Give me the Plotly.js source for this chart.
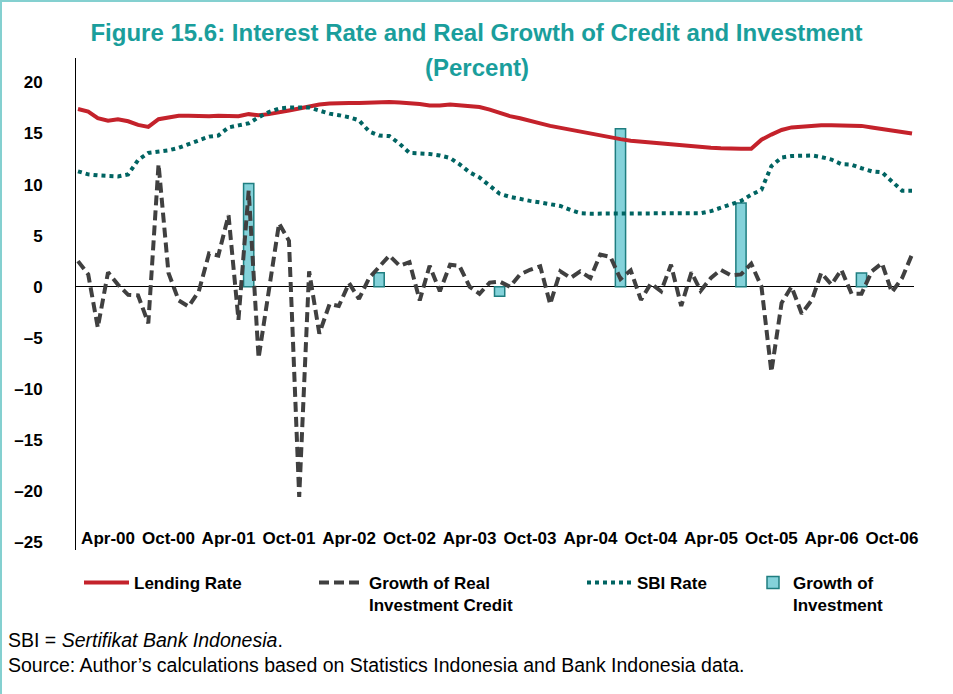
<!DOCTYPE html>
<html><head><meta charset="utf-8">
<script src="https://cdn.plot.ly/plotly-3.0.1.min.js"></script>
<style>
html,body{margin:0;padding:0;background:#fff;}
#wrap{position:relative;width:953px;height:694px;overflow:hidden;}
#chart{position:absolute;left:0;top:0;width:953px;height:694px;}
.bt{position:absolute;left:0;top:0;width:953px;height:2px;background:#84d0d0;}
.bl{position:absolute;left:0;top:0;width:2px;height:694px;background:#84d0d0;}
</style></head><body>
<div id="wrap"><div id="chart"></div><div class="bt"></div><div class="bl"></div></div>
<script>
const startYear = 2000, endYear = 2006;

const lendingRate = [17.4,17.15,16.5,16.25,16.4,16.2,15.85,15.65,16.4,16.6,
16.75,16.75,16.7,16.7,16.75,16.7,16.7,16.9,16.8,16.9,
17.05,17.25,17.45,17.65,17.85,17.95,18.0,18.0,18.0,18.05,
18.1,18.1,18.05,18.0,17.9,17.75,17.75,17.85,17.8,17.75,
17.6,17.35,17.05,16.7,16.5,16.3,16.0,15.75,15.55,15.35,
15.15,15.0,14.8,14.65,14.45,14.3,14.2,14.1,14.0,13.9,
13.8,13.75,13.65,13.6,13.55,13.5,13.5,13.5,14.4,14.9,
15.35,15.6,15.7,15.8,15.8,15.8,15.8,15.8,15.75,15.6,
15.45,15.35,15.2,15.0];

const sbiRate = [11.3,11.0,10.9,10.85,10.8,11.0,12.4,13.1,13.2,13.35,
13.6,13.95,14.4,14.7,14.8,15.6,15.8,16.0,16.6,17.1,
17.45,17.55,17.55,17.55,17.25,16.95,16.8,16.6,16.3,15.2,
14.8,14.75,14.0,13.1,13.05,13.0,12.85,12.6,12.0,11.2,
10.7,9.9,9.1,8.8,8.55,8.4,8.25,8.1,7.9,7.5,
7.2,7.15,7.15,7.15,7.15,7.15,7.15,7.15,7.15,7.15,
7.15,7.15,7.2,7.4,7.75,8.05,8.4,9.0,9.5,11.8,
12.65,12.8,12.85,12.85,12.7,12.45,12.0,11.95,11.6,11.3,
11.2,10.3,9.4,9.4];

const investCreditGrowth = [2.5,1.2,-4.0,1.4,0.2,-0.8,-0.85,-3.6,12.0,1.35,
-1.35,-1.95,-0.45,3.25,3.05,7.0,-3.25,9.4,-7.0,-0.5,
6.2,4.5,-20.6,1.5,-4.6,-1.7,-1.9,0.35,-1.2,0.85,
2.0,3.05,2.05,2.4,-1.35,2.05,-0.45,2.15,2.05,0.0,
-0.7,0.4,0.5,0.0,1.2,1.65,2.0,-1.7,1.5,0.85,
1.5,0.85,3.15,2.9,0.75,1.6,-1.3,0.3,-0.45,2.15,
-1.9,1.4,-0.4,0.85,1.65,1.1,1.2,2.25,0.0,-8.35,
-1.6,0.0,-2.65,-1.3,1.35,0.2,1.65,-0.7,-0.7,1.5,
2.3,-0.55,0.85,3.15];

const investDates = ['2001-06-01','2002-07-01','2003-07-01','2004-07-01','2005-07-01','2006-07-01'];
const investGrowth = [10.1, 1.37, -0.95, 15.46, 8.2, 1.34];

const tickDates = ['2000-04-01','2000-10-01','2001-04-01','2001-10-01','2002-04-01','2002-10-01','2003-04-01',
'2003-10-01','2004-04-01','2004-10-01','2005-04-01','2005-10-01','2006-04-01','2006-10-01'];
const tickLabels = ['Apr-00','Oct-00','Apr-01','Oct-01','Apr-02','Oct-02','Apr-03',
'Oct-03','Apr-04','Oct-04','Apr-05','Oct-05','Apr-06','Oct-06'];
const yTickVals = [20,15,10,5,0,-5,-10,-15,-20,-25];
const yTickText = ['20','15','10','5','0','\u20135','\u201310','\u201315','\u201320','\u201325'];

const months = [];
for (let y = startYear; y <= endYear; y++) {
  for (let m = 1; m <= 12; m++) months.push(y + '-' + String(m).padStart(2,'0') + '-01');
}

const FONT = 'Liberation Sans, Arial, sans-serif';
const legFont = {family: FONT, size: 17, color: '#000', weight: 'bold'};
function leg(px, py, iw) {
  return {x: px/953, y: 1 - py/694, xref: 'container', yref: 'container', xanchor: 'left', yanchor: 'top',
    orientation: 'h', font: legFont, bgcolor: 'rgba(0,0,0,0)', borderwidth: 0, valign: 'top',
    itemwidth: iw};
}

const traces = [
  {type: 'bar', x: investDates, y: investGrowth, name: 'Growth of<br>Investment', legend: 'legend4',
   width: 31*86400000, marker: {color: '#84d2da', line: {color: '#1f7e80', width: 1.5}}},
  {type: 'scatter', mode: 'lines', x: months, y: lendingRate, name: 'Lending Rate', legend: 'legend',
   line: {color: '#c4222b', width: 4}},
  {type: 'scatter', mode: 'lines', x: months, y: investCreditGrowth, name: 'Growth of Real<br>Investment Credit', legend: 'legend2',
   line: {color: '#404040', width: 4, dash: '10px,5px'}},
  {type: 'scatter', mode: 'lines', x: months, y: sbiRate, name: 'SBI Rate', legend: 'legend3',
   line: {color: '#006462', width: 4, dash: '4px,4px'}}
];

const layout = {
  width: 953, height: 694,
  margin: {l: 76, r: 39, t: 58, b: 144},
  paper_bgcolor: '#fff', plot_bgcolor: '#fff',
  showlegend: true,
  title: {text: 'Figure 15.6: Interest Rate and Real Growth of Credit and Investment',
    font: {family: FONT, size: 24, color: '#1a9e9c', weight: 'bold'},
    x: 0.5, xref: 'container', y: 1 - 33/694, yref: 'container', yanchor: 'middle'},
  xaxis: {type: 'date', range: ['1999-12-26', '2006-12-07'], showgrid: false, zeroline: false, showline: false,
    tickmode: 'array', tickvals: tickDates, ticktext: tickLabels, ticks: '',
    ticklabelstandoff: -24, tickangle: 0,
    tickfont: {family: FONT, size: 17, color: '#000', weight: 'bold'}},
  yaxis: {range: [-25.8, 22.4], showgrid: false, zeroline: true, zerolinecolor: '#000', zerolinewidth: 1.5,
    showline: true, linecolor: '#000', linewidth: 1, ticks: '',
    tickmode: 'array', tickvals: yTickVals, ticktext: yTickText, ticklabelstandoff: 29,
    tickfont: {family: FONT, size: 17, color: '#000', weight: 'bold'}},
  legend: leg(79, 565, 45),
  legend2: leg(314, 565, 45),
  legend3: leg(582, 565, 45),
  legend4: leg(753, 565, 30),
  annotations: [
    {text: '(Percent)', xref: 'paper', yref: 'paper', x: (477-76)/838, y: (550-67)/492, xanchor: 'center', yanchor: 'middle',
     showarrow: false, font: {family: FONT, size: 24, color: '#1a9e9c', weight: 'bold'}},
    {text: 'SBI = <i>Sertifikat Bank Indonesia</i>.', xref: 'paper', yref: 'paper', x: (6-76)/838, y: (550-640)/492,
     xanchor: 'left', yanchor: 'middle', showarrow: false, font: {family: FONT, size: 19.5, color: '#000'}},
    {text: 'Source: Author\u2019s calculations based on Statistics Indonesia and Bank Indonesia data.', xref: 'paper', yref: 'paper',
     x: (6-76)/838, y: (550-665)/492, xanchor: 'left', yanchor: 'middle', showarrow: false, font: {family: FONT, size: 19.5, color: '#000'}}
  ]
};

Plotly.newPlot('chart', traces, layout, {displayModeBar: false, staticPlot: true});
</script>
</body></html>
